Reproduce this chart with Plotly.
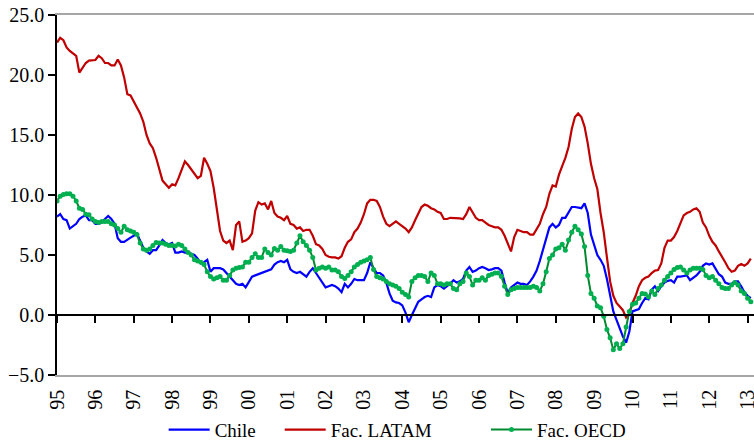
import plotly.graph_objects as go

years = ["95", "96", "97", "98", "99", "00", "01", "02", "03", "04",
         "05", "06", "07", "08", "09", "10", "11", "12", "13"]

chile = [
    8.2, 8.4, 8.0, 7.9, 7.2, 7.4, 7.6, 8.0, 8.2, 8.3, 7.9, 7.9,
    7.6, 7.6, 7.7, 8.0, 8.25, 8.0, 7.6, 6.4, 6.1, 6.1, 6.3, 6.45,
    6.6, 6.8, 6.2, 5.6, 5.3, 5.1, 5.4, 5.4, 5.8, 6.25, 6.0, 5.9,
    6.0, 5.2, 5.2, 5.3, 5.2, 5.2, 5.1, 5.0, 4.7, 4.3, 4.4, 4.6,
    3.6, 3.9, 3.9, 3.9, 3.8, 3.5, 3.2, 2.9, 2.6, 2.5, 2.6, 2.3,
    2.8, 3.2, 3.3, 3.4, 3.5, 3.6, 3.75, 3.8, 4.2, 4.4, 4.5, 4.4,
    4.6, 3.8, 3.6, 3.5, 3.6, 3.4, 3.2, 3.6, 3.9, 3.5, 3.1, 2.8,
    2.3, 2.4, 2.5, 2.4, 2.2, 1.9, 2.6, 2.3, 2.6, 3.0, 2.9, 2.9,
    2.9, 3.5, 4.4, 3.9, 3.5, 3.5, 3.3, 2.7, 1.8, 1.2, 1.05, 1.0,
    0.8, 0.2, -0.6, 0.0, 0.6, 1.1, 1.3, 1.5, 1.6, 1.5, 2.3, 2.5,
    2.4, 2.2, 2.4, 2.6, 2.9, 2.7, 2.8, 3.0, 3.7, 4.0, 3.6, 3.7,
    3.9, 4.0, 3.9, 3.75, 3.8, 3.9, 3.9, 3.7, 2.7, 1.8, 2.3, 2.5,
    2.7, 2.6, 2.6, 2.5, 2.8, 3.2, 3.7, 4.5, 5.5, 6.4, 7.3, 7.6,
    7.3, 7.5, 8.1, 8.1, 8.5, 9.0, 9.0, 8.95, 8.9, 9.3, 8.5, 6.7,
    5.8, 5.0, 4.6, 4.1, 3.0, 1.7, 0.3, -0.4, -1.2, -1.8, -2.3, -1.4,
    0.3, 0.4, 0.5, 1.0, 1.4, 1.3, 2.1, 2.4, 2.0, 2.4, 2.7, 2.85,
    2.9, 2.7, 3.2, 3.2, 3.25, 3.3, 2.9, 3.1, 3.3, 3.6, 4.1, 4.3,
    4.2, 4.3, 3.8, 3.4, 3.2, 2.7, 2.6, 2.6, 2.8, 2.8, 2.4, 1.9,
    1.6, 1.4,
]

latam = [
    22.7, 23.1, 22.9, 22.3, 22.0, 21.8, 21.6, 20.2, 20.6, 21.0, 21.2, 21.2,
    21.25, 21.6, 21.4, 21.0, 21.0, 20.8, 20.8, 21.3, 20.8, 19.8, 18.4, 18.3,
    17.8, 17.4, 16.8, 16.1, 15.0, 14.3, 13.9, 13.1, 12.2, 11.2, 10.9, 10.6,
    10.9, 10.8, 11.4, 12.1, 12.8, 12.5, 12.1, 11.7, 11.4, 11.6, 13.1, 12.6,
    12.0, 10.6, 8.8, 7.0, 6.2, 6.0, 6.2, 5.4, 7.5, 7.8, 6.1, 6.2,
    6.4, 6.8, 8.7, 9.4, 9.2, 9.3, 8.8, 9.5, 8.5, 8.2, 8.1, 7.9,
    8.25, 7.6, 7.5, 7.2, 7.3, 7.0, 7.1, 7.1, 6.6, 5.9, 5.8, 5.5,
    5.0, 4.85, 4.8, 4.8, 4.7, 4.9, 5.6, 6.1, 6.3, 6.9, 7.2, 7.7,
    8.4, 9.3, 9.6, 9.6, 9.5, 9.0, 8.2, 7.6, 7.4, 7.6, 7.8, 7.6,
    7.4, 7.2, 6.9, 7.3, 7.9, 8.5, 9.0, 9.2, 9.1, 8.9, 8.8, 8.6,
    8.5, 8.0, 8.0, 8.1, 8.1, 8.1, 8.05, 8.0, 8.4, 9.0, 8.5, 8.1,
    7.9, 7.9, 7.7, 7.5, 7.4, 7.3, 7.3, 7.1, 6.6, 5.9, 5.3, 6.5,
    7.1, 7.0, 6.9, 6.9, 6.7, 6.7, 7.2, 7.6, 8.4, 9.0, 10.1, 10.8,
    10.7, 11.7, 12.4, 13.1, 14.0, 15.5, 16.5, 16.8, 16.5, 15.7, 14.3, 12.6,
    11.4, 10.5, 8.5, 6.9, 4.8, 2.8, 1.6, 1.0, 0.7, 0.4, -0.2, 0.1,
    1.0, 1.6, 2.4, 2.9, 3.1, 3.2, 3.5, 3.7, 3.75, 4.3, 5.6, 6.2,
    6.2, 6.5, 7.0, 7.6, 8.3, 8.5, 8.6, 8.8, 8.9, 8.6, 7.7, 7.3,
    6.6, 6.1, 5.8, 5.3, 4.9, 4.4, 3.9, 3.6, 3.7, 4.1, 4.25, 4.1,
    4.3, 4.7,
]

oecd = [
    9.5, 9.9, 10.05, 10.1, 10.1, 9.9, 9.5, 8.9, 8.8, 8.4, 8.35, 8.0,
    7.8, 7.7, 7.8, 7.8, 7.8, 7.6, 7.5, 7.2, 6.9, 7.4, 7.1, 7.0,
    6.9, 6.7, 6.0, 5.5, 5.4, 5.5, 5.8, 6.05, 6.0, 6.0, 5.9, 5.8,
    5.8, 5.75, 5.9, 5.8, 5.5, 5.2, 5.0, 4.6, 4.5, 4.4, 4.2, 3.6,
    3.2, 3.0, 3.1, 3.2, 2.9, 2.9, 3.3, 3.75, 3.9, 3.95, 4.0, 4.4,
    4.4, 4.8, 5.1, 4.8, 4.8, 5.5, 5.2, 5.0, 5.55, 5.4, 5.7, 5.4,
    5.35, 5.3, 5.4, 6.0, 6.6, 6.1, 5.8, 5.4, 4.8, 3.75, 3.9, 4.0,
    3.9, 4.0, 3.75, 3.75, 3.6, 3.2, 3.05, 3.3, 3.6, 4.0, 4.2, 4.4,
    4.5, 4.6, 4.8, 3.8, 3.2, 3.1, 3.0, 2.8, 2.6, 2.5, 2.4, 2.2,
    1.9, 1.7, 1.5, 2.8, 3.1, 3.3, 3.3, 3.2, 2.8, 3.5, 3.3, 2.6,
    2.6, 2.5, 2.6, 2.6, 2.2, 2.1, 2.6, 2.8, 3.5, 3.2, 2.5, 2.9,
    2.9, 3.1, 2.9, 3.3, 3.4, 3.5, 3.5, 3.2, 2.4, 1.7, 2.1, 2.2,
    2.3, 2.3, 2.3, 2.3, 2.3, 2.4, 2.3, 2.0, 2.6, 3.6, 4.7, 5.0,
    5.5, 5.6, 5.9, 5.4, 6.25, 6.9, 7.4, 7.1, 6.75, 5.7, 3.3, 1.8,
    1.4, 0.75, 0.6, -0.1, -1.2, -1.9, -2.9, -2.4, -2.8, -2.4, -1.0, 0.3,
    0.9, 1.0, 1.4, 1.8, 1.75, 1.5, 2.0, 1.7, 2.2, 2.5, 2.9, 3.2,
    3.5, 3.8, 3.95, 4.0, 3.75, 3.5, 3.75, 3.9, 3.9, 3.9, 3.8, 3.3,
    3.1, 3.2, 2.9, 2.6, 2.3, 2.2, 2.2, 2.5, 2.7, 2.5, 2.0, 1.8,
    1.4, 1.1,
]

months = list(range(len(chile)))
tick_pos = [12 * i for i in range(len(years))]
y_ticks = [-5, 0, 5, 10, 15, 20, 25]

FONT = "Liberation Serif, Times New Roman, serif"

fig = go.Figure()
fig.add_trace(go.Scatter(x=months, y=chile, name="Chile", mode="lines",
                         legend="legend",
                         line=dict(color="#0000FF", width=2.2)))
fig.add_trace(go.Scatter(x=months, y=latam, name="Fac. LATAM", mode="lines",
                         legend="legend2",
                         line=dict(color="#C00000", width=2.2)))
fig.add_trace(go.Scatter(x=months, y=oecd, name="Fac. OECD", mode="lines+markers",
                         xaxis="x2", legend="legend3",
                         line=dict(color="#008A2E", width=2),
                         marker=dict(color="#00B050", size=5)))


def legend_at(xp):
    return dict(orientation="h", x=xp, xanchor="left", y=-0.152, yanchor="middle",
                itemwidth=41, font=dict(family=FONT, size=19),
                bgcolor="rgba(0,0,0,0)")


fig.update_layout(
    width=754, height=441,
    margin=dict(l=57, r=0, t=15, b=66, autoexpand=False),
    paper_bgcolor="white", plot_bgcolor="white",
    font=dict(family=FONT, size=20, color="black"),
    showlegend=True,
    legend=legend_at(0.153),
    legend2=legend_at(0.3195),
    legend3=legend_at(0.6155),
    xaxis=dict(range=[0, 218], tickvals=tick_pos, ticktext=years, tickangle=-90,
               showgrid=False, zeroline=False, showline=True, linecolor="#A6A6A6",
               linewidth=1.5, mirror=True, ticks="", ticklabelstandoff=5,
               ticklabeloverflow="allow",
               automargin=False, tickfont=dict(family=FONT, size=20)),
    xaxis2=dict(range=[0, 218], overlaying="x", anchor="free", position=1 / 6,
                matches="x", tickvals=tick_pos, showticklabels=False, ticks="outside",
                ticklen=7, tickwidth=1.5, tickcolor="black", showline=True,
                linecolor="black", linewidth=1.5, showgrid=False, zeroline=False,
                automargin=False),
    yaxis=dict(range=[-5, 25], tickvals=y_ticks, tickformat=".1f", showgrid=False,
               zeroline=False, showline=True, linecolor="black", linewidth=1.5,
               ticks="outside", ticklen=7, tickwidth=1.5, tickcolor="black",
               automargin=False, tickfont=dict(family=FONT, size=20)),
)

fig.write_html("out.html", config={"displayModeBar": False},
               post_script="document.body.style.margin='0';document.body.style.overflow='hidden';")
